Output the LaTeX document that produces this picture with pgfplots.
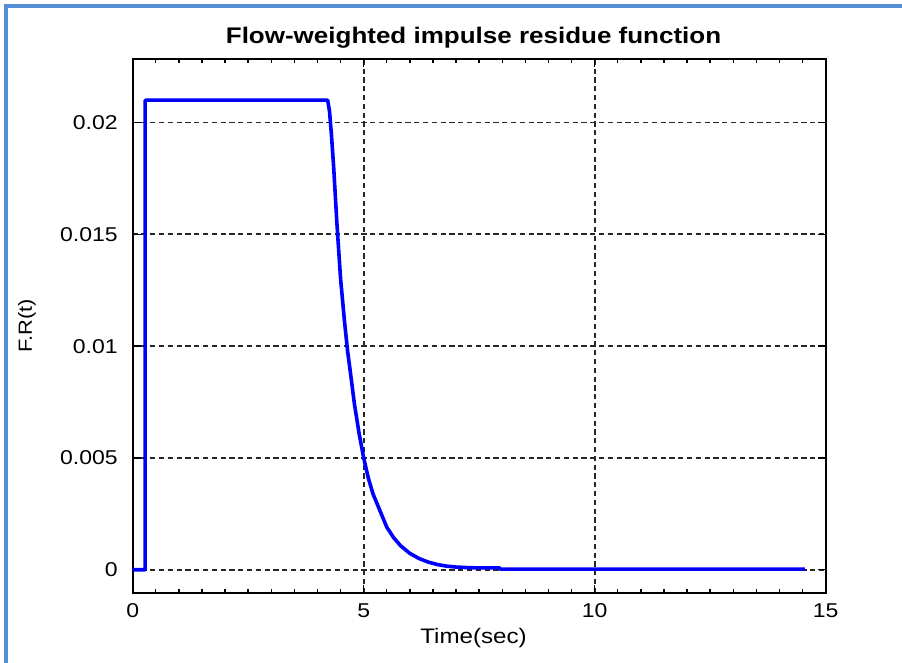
\documentclass[border=0pt]{standalone}
\usepackage{pgfplots}
\pgfplotsset{compat=1.18}
\usepackage{fontspec}
\setmainfont{Liberation Sans}
\newfontfamily\cf[FakeStretch=1.15]{Liberation Sans}
\definecolor{bordercol}{RGB}{85,142,213}
\definecolor{lineblue}{RGB}{0,0,255}
\begin{document}
\begin{tikzpicture}
\useasboundingbox (0,0) rectangle (451pt,331.5pt);
\fill[white] (0,0) rectangle (451pt,331.5pt);
\draw[line width=2pt, bordercol] (3pt,0) -- (3pt,328.5pt) -- (451pt,328.5pt);
\begin{axis}[
  at={(66.35pt,35pt)}, anchor=south west,
  scale only axis, width=346.5pt, height=267pt,
  xmin=0, xmax=15, ymin=-0.00104, ymax=0.02284,
  xtick={0,5,10,15}, xticklabels={0,5,10,15},
  ytick={0,0.005,0.01,0.015,0.02}, yticklabels={0,0.005,0.01,0.015,0.02},
  scaled y ticks=false,
  minor x tick num=9,
  tick align=inside,
  major tick length=4pt, minor tick length=2pt,
  tick style={black, line width=0.7pt},
  axis line style={black, line width=1pt},
  grid=major,
  major grid style={black!85, line width=0.9pt, dash pattern=on 2.6pt off 1.8pt},
  ticklabel style={font=\cf\fontsize{10}{12}\selectfont},
  xticklabel style={yshift=-1.7pt},
  yticklabel style={xshift=-4pt},
  title={Flow-weighted impulse residue function},
  title style={font=\cf\fontsize{11.3}{13}\selectfont\bfseries, at={(axis description cs:0.4918,1)}, anchor=base, yshift=1.5pt},
  xlabel={Time(sec)},
  xlabel style={font=\cf\fontsize{10.5}{12}\selectfont, at={(axis description cs:0.4918,0)}, anchor=base, yshift=-25.25pt},
  ylabel={F.R(t)},
  ylabel style={font=\cf\fontsize{9.5}{11}\selectfont, at={(axis description cs:-0.1525,0.5)}, anchor=center},
]
\addplot[lineblue, line width=1.8pt, line join=round] coordinates {
(0,0) (0.27,0) (0.27,0.021) (4.22,0.021) (4.26,0.0205) (4.30,0.0195) (4.35,0.0180)
(4.42,0.0155) (4.50,0.0130) (4.58,0.0112) (4.65,0.0098) (4.72,0.0087)
(4.80,0.0074) (4.90,0.0061) (5.00,0.0050) (5.10,0.0041) (5.20,0.0034)
(5.36,0.0026) (5.50,0.0019) (5.65,0.00143) (5.80,0.00107) (6.00,0.00073)
(6.20,0.00050) (6.40,0.00034) (6.60,0.00023) (6.80,0.00016) (7.00,0.00012)
(7.30,0.00009) (7.60,0.00008) (7.95,0.00008) (7.95,0.00003) (14.55,0.00003)
};
\end{axis}
\end{tikzpicture}
\end{document}
